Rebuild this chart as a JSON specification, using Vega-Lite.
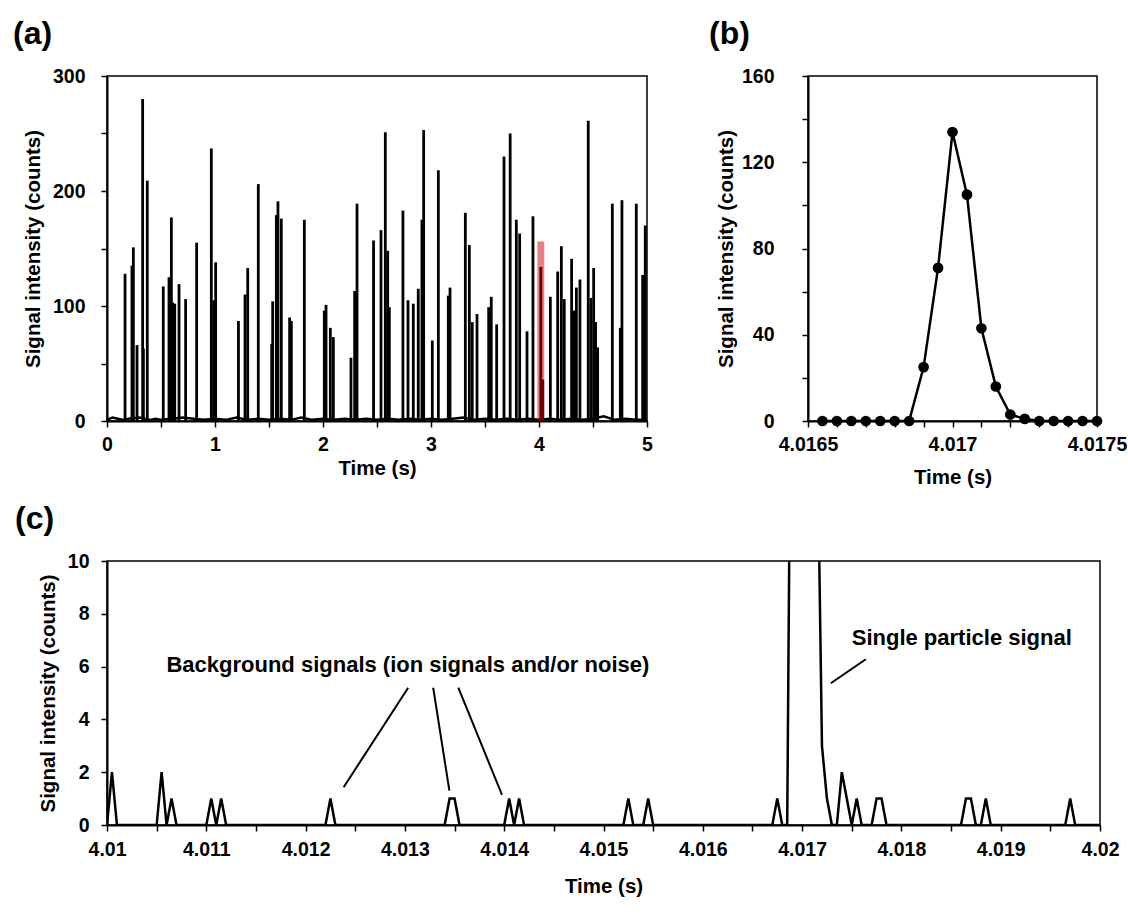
{
  "$schema": "https://vega.github.io/schema/vega-lite/v6.json",
  "background": "white",
  "padding": {"left": 12, "top": 17, "right": 5, "bottom": 5},
  "config": {
    "font": "Liberation Sans",
    "view": {"stroke": "black", "strokeWidth": 1.5},
    "axis": {
      "domainColor": "black", "domainWidth": 2, "tickColor": "black", "tickWidth": 1.5, "tickSize": 6,
      "labelFont": "Liberation Sans", "labelFontWeight": "bold", "labelFontSize": 19.5, "labelColor": "black",
      "titleFont": "Liberation Sans", "titleFontWeight": "bold", "titleFontSize": 20.5, "titleColor": "black",
      "grid": false, "labelFlush": false, "labelOverlap": false
    },
    "title": {"font": "Liberation Sans", "fontSize": 32, "fontWeight": "bold", "anchor": "start", "color": "black", "frame": "group", "offset": 15}
  },
  "datasets": {
    "spikes": [
      {"t": 0.167, "v": 128}, {"t": 0.231, "v": 135}, {"t": 0.244, "v": 151}, {"t": 0.278, "v": 66},
      {"t": 0.330, "v": 280}, {"t": 0.337, "v": 63}, {"t": 0.373, "v": 209}, {"t": 0.521, "v": 117},
      {"t": 0.574, "v": 125}, {"t": 0.596, "v": 177}, {"t": 0.608, "v": 103}, {"t": 0.627, "v": 102},
      {"t": 0.667, "v": 119}, {"t": 0.728, "v": 106}, {"t": 0.830, "v": 155}, {"t": 0.966, "v": 237},
      {"t": 0.988, "v": 105}, {"t": 1.006, "v": 138}, {"t": 1.217, "v": 87}, {"t": 1.278, "v": 110},
      {"t": 1.303, "v": 133}, {"t": 1.401, "v": 206}, {"t": 1.525, "v": 67}, {"t": 1.534, "v": 104},
      {"t": 1.568, "v": 179}, {"t": 1.583, "v": 191}, {"t": 1.614, "v": 176}, {"t": 1.691, "v": 90},
      {"t": 1.707, "v": 87}, {"t": 1.827, "v": 175}, {"t": 2.012, "v": 96}, {"t": 2.028, "v": 101},
      {"t": 2.068, "v": 81}, {"t": 2.096, "v": 73}, {"t": 2.259, "v": 55}, {"t": 2.293, "v": 113},
      {"t": 2.315, "v": 189}, {"t": 2.468, "v": 157}, {"t": 2.537, "v": 166}, {"t": 2.577, "v": 251},
      {"t": 2.599, "v": 148}, {"t": 2.614, "v": 99}, {"t": 2.740, "v": 183}, {"t": 2.787, "v": 105},
      {"t": 2.836, "v": 102}, {"t": 2.882, "v": 115}, {"t": 2.916, "v": 175}, {"t": 2.932, "v": 253},
      {"t": 3.012, "v": 70}, {"t": 3.068, "v": 218}, {"t": 3.160, "v": 109}, {"t": 3.176, "v": 116},
      {"t": 3.318, "v": 181}, {"t": 3.355, "v": 153}, {"t": 3.382, "v": 86}, {"t": 3.426, "v": 93},
      {"t": 3.534, "v": 99}, {"t": 3.558, "v": 108}, {"t": 3.608, "v": 84}, {"t": 3.676, "v": 230},
      {"t": 3.733, "v": 250}, {"t": 3.790, "v": 175}, {"t": 3.821, "v": 163}, {"t": 3.889, "v": 78},
      {"t": 3.944, "v": 178}, {"t": 4.017, "v": 134}, {"t": 4.035, "v": 36}, {"t": 4.105, "v": 108},
      {"t": 4.173, "v": 130}, {"t": 4.207, "v": 152}, {"t": 4.234, "v": 106}, {"t": 4.302, "v": 141},
      {"t": 4.327, "v": 96}, {"t": 4.346, "v": 116}, {"t": 4.379, "v": 123}, {"t": 4.456, "v": 261},
      {"t": 4.481, "v": 107}, {"t": 4.506, "v": 133}, {"t": 4.524, "v": 86}, {"t": 4.543, "v": 64},
      {"t": 4.679, "v": 189}, {"t": 4.753, "v": 81}, {"t": 4.768, "v": 192}, {"t": 4.901, "v": 189},
      {"t": 4.960, "v": 127}, {"t": 4.984, "v": 170}
    ],
    "baseline": [
      {"t": 0.0, "v": 1}, {"t": 0.05, "v": 3}, {"t": 0.1, "v": 2}, {"t": 0.15, "v": 1}, {"t": 0.2, "v": 2},
      {"t": 0.3, "v": 3}, {"t": 0.4, "v": 1}, {"t": 0.45, "v": 2}, {"t": 0.5, "v": 1}, {"t": 0.6, "v": 2},
      {"t": 0.7, "v": 3}, {"t": 0.8, "v": 2}, {"t": 0.9, "v": 1}, {"t": 1.0, "v": 2}, {"t": 1.1, "v": 1},
      {"t": 1.2, "v": 3}, {"t": 1.3, "v": 1}, {"t": 1.4, "v": 2}, {"t": 1.5, "v": 1}, {"t": 1.6, "v": 2},
      {"t": 1.7, "v": 1}, {"t": 1.8, "v": 3}, {"t": 1.9, "v": 1}, {"t": 2.0, "v": 2}, {"t": 2.1, "v": 1},
      {"t": 2.2, "v": 2}, {"t": 2.3, "v": 1}, {"t": 2.4, "v": 2}, {"t": 2.5, "v": 1}, {"t": 2.6, "v": 2},
      {"t": 2.7, "v": 1}, {"t": 2.8, "v": 2}, {"t": 2.9, "v": 1}, {"t": 3.0, "v": 2}, {"t": 3.1, "v": 1},
      {"t": 3.2, "v": 2}, {"t": 3.3, "v": 3}, {"t": 3.4, "v": 1}, {"t": 3.5, "v": 2}, {"t": 3.6, "v": 1},
      {"t": 3.7, "v": 2}, {"t": 3.8, "v": 1}, {"t": 3.9, "v": 2}, {"t": 4.0, "v": 1}, {"t": 4.1, "v": 2},
      {"t": 4.2, "v": 1}, {"t": 4.3, "v": 2}, {"t": 4.4, "v": 1}, {"t": 4.5, "v": 2}, {"t": 4.6, "v": 4},
      {"t": 4.7, "v": 1}, {"t": 4.8, "v": 2}, {"t": 4.9, "v": 1}, {"t": 5.0, "v": 1}
    ],
    "highlight": [{"t1": 3.985, "t2": 4.049, "v": 156}],
    "peak": [
      {"t": 4.01655, "v": 0}, {"t": 4.0166, "v": 0}, {"t": 4.01665, "v": 0}, {"t": 4.0167, "v": 0},
      {"t": 4.01675, "v": 0}, {"t": 4.0168, "v": 0}, {"t": 4.01685, "v": 0}, {"t": 4.0169, "v": 25},
      {"t": 4.01695, "v": 71}, {"t": 4.017, "v": 134}, {"t": 4.01705, "v": 105}, {"t": 4.0171, "v": 43},
      {"t": 4.01715, "v": 16}, {"t": 4.0172, "v": 3}, {"t": 4.01725, "v": 1}, {"t": 4.0173, "v": 0},
      {"t": 4.01735, "v": 0}, {"t": 4.0174, "v": 0}, {"t": 4.01745, "v": 0}, {"t": 4.0175, "v": 0}
    ],
    "trace": [
      {"t": 4.01, "v": 0}, {"t": 4.01005, "v": 2}, {"t": 4.0101, "v": 0}, {"t": 4.0105, "v": 0},
      {"t": 4.01055, "v": 2}, {"t": 4.0106, "v": 0}, {"t": 4.01065, "v": 1}, {"t": 4.0107, "v": 0},
      {"t": 4.011, "v": 0}, {"t": 4.01105, "v": 1}, {"t": 4.0111, "v": 0}, {"t": 4.01115, "v": 1},
      {"t": 4.0112, "v": 0}, {"t": 4.0122, "v": 0}, {"t": 4.01225, "v": 1}, {"t": 4.0123, "v": 0},
      {"t": 4.0134, "v": 0}, {"t": 4.01345, "v": 1}, {"t": 4.0135, "v": 1}, {"t": 4.01355, "v": 0},
      {"t": 4.014, "v": 0}, {"t": 4.01405, "v": 1}, {"t": 4.0141, "v": 0}, {"t": 4.01415, "v": 1},
      {"t": 4.0142, "v": 0}, {"t": 4.0152, "v": 0}, {"t": 4.01525, "v": 1}, {"t": 4.0153, "v": 0},
      {"t": 4.0154, "v": 0}, {"t": 4.01545, "v": 1}, {"t": 4.0155, "v": 0}, {"t": 4.0167, "v": 0},
      {"t": 4.01675, "v": 1}, {"t": 4.0168, "v": 0}, {"t": 4.01685, "v": 0}, {"t": 4.0169, "v": 25},
      {"t": 4.01695, "v": 71}, {"t": 4.017, "v": 134}, {"t": 4.01705, "v": 105}, {"t": 4.0171, "v": 43},
      {"t": 4.01715, "v": 16}, {"t": 4.0172, "v": 3}, {"t": 4.01725, "v": 1}, {"t": 4.0173, "v": 0},
      {"t": 4.01735, "v": 0}, {"t": 4.0174, "v": 2}, {"t": 4.01745, "v": 1}, {"t": 4.0175, "v": 0},
      {"t": 4.01755, "v": 1}, {"t": 4.0176, "v": 0}, {"t": 4.0177, "v": 0}, {"t": 4.01775, "v": 1},
      {"t": 4.0178, "v": 1}, {"t": 4.01785, "v": 0}, {"t": 4.0186, "v": 0}, {"t": 4.01865, "v": 1},
      {"t": 4.0187, "v": 1}, {"t": 4.01875, "v": 0}, {"t": 4.0188, "v": 0}, {"t": 4.01885, "v": 1},
      {"t": 4.0189, "v": 0}, {"t": 4.01965, "v": 0}, {"t": 4.0197, "v": 1}, {"t": 4.01975, "v": 0},
      {"t": 4.02, "v": 0}
    ],
    "leaders": [
      {"t1": 4.013033, "v1": 5.2, "t2": 4.012383, "v2": 1.43},
      {"t1": 4.013285, "v1": 5.2, "t2": 4.013448, "v2": 1.3},
      {"t1": 4.013538, "v1": 5.2, "t2": 4.013978, "v2": 1.14},
      {"t1": 4.017642, "v1": 6.28, "t2": 4.017289, "v2": 5.37}
    ],
    "labels": [
      {"t": 4.01303, "v": 6.06, "text": "Background signals (ion signals and/or noise)"},
      {"t": 4.018608, "v": 7.07, "text": "Single particle signal"}
    ]
  },
  "vconcat": [
    {
      "hconcat": [
        {
          "title": {"text": "(a)", "dx": -94},
          "width": 540, "height": 345,
          "layer": [
            {
              "data": {"name": "baseline"},
              "mark": {"type": "line", "color": "black", "strokeWidth": 2.5},
              "encoding": {
                "x": {"field": "t", "type": "quantitative", "scale": {"domain": [0, 5], "nice": false},
                  "axis": {"title": "Time (s)", "format": "~g", "values": [0,0.25,0.5,0.75,1,1.25,1.5,1.75,2,2.25,2.5,2.75,3,3.25,3.5,3.75,4,4.25,4.5,4.75,5],
                    "labelExpr": "datum.value % 1 == 0 ? datum.label : ''", "labelPadding": 8, "titlePadding": 5}},
                "y": {"field": "v", "type": "quantitative", "scale": {"domain": [0, 300], "nice": false},
                  "axis": {"title": "Signal intensity (counts)", "values": [0,50,100,150,200,250,300],
                    "labelExpr": "datum.value % 100 == 0 ? datum.label : ''", "labelPadding": 16, "titlePadding": 9}}
              }
            },
            {
              "data": {"name": "spikes"},
              "mark": {"type": "rule", "color": "black", "strokeWidth": 2.8},
              "encoding": {
                "x": {"field": "t", "type": "quantitative"},
                "y": {"field": "v", "type": "quantitative"},
                "y2": {"datum": 0}
              }
            },
            {
              "data": {"name": "highlight"},
              "mark": {"type": "rect", "color": "#cc0014", "opacity": 0.5},
              "encoding": {
                "x": {"field": "t1", "type": "quantitative"},
                "x2": {"field": "t2"},
                "y": {"field": "v", "type": "quantitative"},
                "y2": {"datum": 0}
              }
            }
          ]
        },
        {
          "title": {"text": "(b)", "dx": -99},
          "width": 289, "height": 345,
          "data": {"name": "peak"},
          "encoding": {
            "x": {"field": "t", "type": "quantitative", "scale": {"domain": [4.0165, 4.0175], "nice": false, "zero": false},
              "axis": {"title": "Time (s)", "format": "~g",
                "values": [4.0165,4.0166,4.0167,4.0168,4.0169,4.017,4.0171,4.0172,4.0173,4.0174,4.0175],
                "labelExpr": "abs(datum.value*2000 - round(datum.value*2000)) < 0.001 ? datum.label : ''", "labelPadding": 8, "titlePadding": 14}},
            "y": {"field": "v", "type": "quantitative", "scale": {"domain": [0, 160], "nice": false},
              "axis": {"title": "Signal intensity (counts)", "values": [0,20,40,60,80,100,120,140,160],
                "labelExpr": "datum.value % 40 == 0 ? datum.label : ''", "labelPadding": 28, "titlePadding": 5}}
          },
          "layer": [
            {"mark": {"type": "line", "color": "black", "strokeWidth": 2.5}},
            {"mark": {"type": "point", "filled": true, "color": "black", "size": 115, "opacity": 1}}
          ]
        }
      ],
      "spacing": 161,
      "bounds": "flush"
    },
    {
      "title": {"text": "(c)", "dx": -92},
      "width": 993, "height": 264,
      "layer": [
        {
          "data": {"name": "trace"},
          "mark": {"type": "line", "color": "black", "strokeWidth": 2.5, "clip": true},
          "encoding": {
            "x": {"field": "t", "type": "quantitative", "scale": {"domain": [4.01, 4.02], "nice": false, "zero": false},
              "axis": {"title": "Time (s)", "format": "~g",
                "values": [4.01,4.0105,4.011,4.0115,4.012,4.0125,4.013,4.0135,4.014,4.0145,4.015,4.0155,4.016,4.0165,4.017,4.0175,4.018,4.0185,4.019,4.0195,4.02],
                "labelExpr": "abs(datum.value*1000 - round(datum.value*1000)) < 0.001 ? datum.label : ''", "labelPadding": 9, "titlePadding": 18}},
            "y": {"field": "v", "type": "quantitative", "scale": {"domain": [0, 10], "nice": false},
              "axis": {"title": "Signal intensity (counts)", "values": [0,1,2,3,4,5,6,7,8,9,10],
                "labelExpr": "datum.value % 2 == 0 ? datum.label : ''", "labelPadding": 12, "titlePadding": 9}}
          }
        },
        {
          "data": {"name": "leaders"},
          "mark": {"type": "rule", "color": "black", "strokeWidth": 2},
          "encoding": {
            "x": {"field": "t1", "type": "quantitative"},
            "y": {"field": "v1", "type": "quantitative"},
            "x2": {"field": "t2"},
            "y2": {"field": "v2"}
          }
        },
        {
          "data": {"name": "labels"},
          "mark": {"type": "text", "font": "Liberation Sans", "fontWeight": "bold", "fontSize": 22, "color": "black", "align": "center", "baseline": "middle"},
          "encoding": {
            "x": {"field": "t", "type": "quantitative"},
            "y": {"field": "v", "type": "quantitative"},
            "text": {"field": "text"}
          }
        }
      ]
    }
  ],
  "spacing": 485,
  "bounds": "flush"
}
